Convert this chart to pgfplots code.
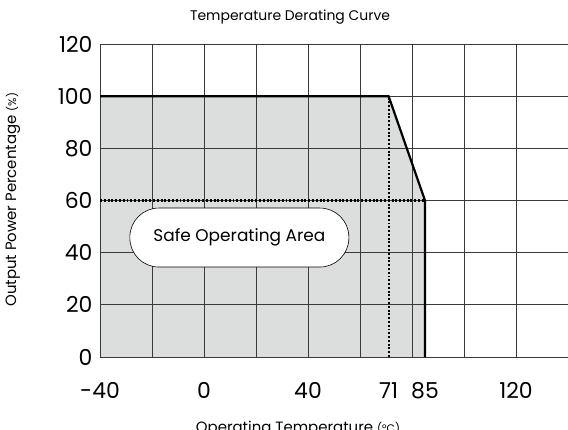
\documentclass[border=0pt]{standalone}
\usepackage{fontspec}
\setmainfont{Poppins}
\usepackage{pgfplots}
\pgfplotsset{compat=1.18}
\definecolor{safegray}{HTML}{DCDDDD}
\definecolor{gridgray}{HTML}{3A3A3A}
\begin{document}
\begin{tikzpicture}
\begin{axis}[
    set layers,
    scale only axis,
    width=468bp, height=313bp,
    xmin=-40, xmax=140, ymin=0, ymax=120,
    xtick={-40,-20,...,140},
    xticklabels={-40,,0,,40,,,,120,},
    extra x ticks={71,85},
    extra x tick style={grid=none},
    ytick={0,20,...,120},
    grid=major,
    grid style={line width=0.8pt, color=gridgray},
    axis line style={line width=0.8pt, color=gridgray},
    major tick length=0pt,
    tick label style={font=\fontsize{22}{22}\selectfont},
    /pgf/number format/assume math mode=true,
    xticklabel style={yshift=-22bp},
    yticklabel style={xshift=-4bp},
    clip=false,
]
% safe operating area fill
\addplot[fill=safegray, draw=none, on layer=axis background]
    coordinates {(-40,100) (71,100) (85,60) (85,0)} \closedcycle;

% derating curve
\addplot[black, line width=2.2pt, line join=miter]
    coordinates {(-40,100) (71,100) (85,60) (85,0)};

% dotted guides
\addplot[black, line width=2.2pt, dash pattern=on 2pt off 1.8pt]
    coordinates {(-40,60) (85,60)};
\addplot[black, line width=2.2pt, dash pattern=on 2pt off 1.8pt]
    coordinates {(71,0) (71,100)};

\node[draw=black, fill=white, line width=0.6pt, rounded corners=29bp,
      minimum width=219bp, minimum height=59bp,
      font=\fontsize{17}{17}\selectfont]
    at (axis cs:13.6,45.8) {Safe Operating Area};

\node[font=\fontsize{14}{14}\selectfont]
    at (axis description cs:0.406,1.086) {Temperature Derating Curve};
\node[font=\fontsize{15}{15}\selectfont, rotate=90]
    at (axis description cs:-0.186,0.502) {Output Power Percentage {\fontsize{11}{11}\selectfont(\%)}};
\node[font=\fontsize{15}{15}\selectfont, anchor=north, inner sep=0pt]
    at (axis description cs:0.423,-0.205) {Operating Temperature {\fontsize{11}{11}\selectfont(°C)}};
\end{axis}
\pgfresetboundingbox
\path[use as bounding box]
    ([shift={(-100bp,-73bp)}]current axis.south west)
    rectangle ([shift={(0bp,44bp)}]current axis.north east);
\end{tikzpicture}
\end{document}
